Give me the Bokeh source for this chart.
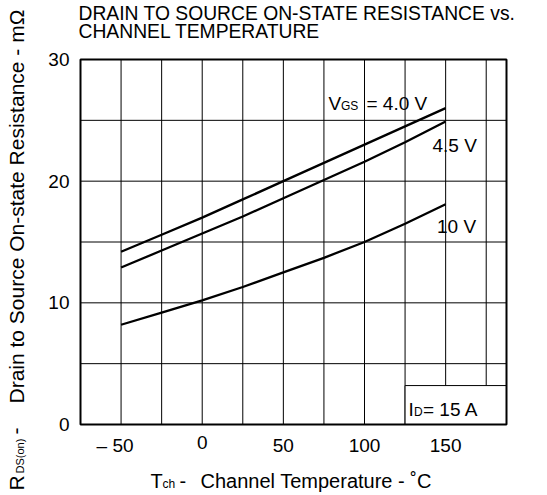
import math
from bokeh.plotting import figure
from bokeh.models import Range1d
from bokeh.core.properties import value
from bokeh.embed import file_html
from bokeh.resources import INLINE

# ---- data ----
temps = [-50, -25, 0, 25, 50, 75, 100, 125, 150]
r_vgs_40 = [14.2, 15.6, 17.0, 18.5, 20.0, 21.5, 23.0, 24.5, 26.0]
r_vgs_45 = [12.9, 14.3, 15.7, 17.1, 18.6, 20.1, 21.6, 23.2, 24.9]
r_vgs_10 = [8.2, 9.2, 10.2, 11.3, 12.5, 13.7, 15.0, 16.5, 18.1]

x_ticks = [-50, 0, 50, 100, 150]
x_tick_labels = ["– 50", "0", "50", "100", "150"]
y_ticks = [0, 10, 20, 30]
y_tick_labels = ["0", "10", "20", "30"]
x_grid = [-50, -25, 0, 25, 50, 75, 100, 125, 150, 175]
y_grid = [5, 10, 15, 20, 25]
x_min, x_max = -75, 187.5
y_min, y_max = 0, 30

id_box_left = [125]
id_box_right = [187.5]
id_box_bottom = [0]
id_box_top = [3.2]

FONT = "Liberation Sans"
W, H = 547, 495
ML, MR, MT, MB = 80, 41, 59, 71          # plot-area margins in pixels
KX = (x_max - x_min) / (W - ML - MR)      # data units per pixel
KY = (y_max - y_min) / (H - MT - MB)
BASE_CORR = 0.37                          # baseline correction (fraction of font size)

p = figure(width=W, height=H,
           x_range=Range1d(x_min - ML * KX, x_max + MR * KX),
           y_range=Range1d(y_min - MB * KY, y_max + MT * KY),
           output_backend="svg", toolbar_location=None,
           x_axis_type=None, y_axis_type=None,
           min_border=0)
p.outline_line_color = None
p.background_fill_color = "white"
p.border_fill_color = "white"


def fx(px):
    return x_min + (px - ML) * KX


def fy(py):
    return y_min + (H - MB - py) * KY


# grid lines
p.segment(x0=x_grid, x1=x_grid, y0=[y_min] * len(x_grid), y1=[y_max] * len(x_grid),
          line_color="black", line_width=1)
p.segment(x0=[x_min] * len(y_grid), x1=[x_max] * len(y_grid), y0=y_grid, y1=y_grid,
          line_color="black", line_width=1)

# I_D box
p.quad(left=id_box_left, right=id_box_right, bottom=id_box_bottom, top=id_box_top,
       fill_color="white", line_color="black", line_width=1)

# curves
for r in (r_vgs_40, r_vgs_45, r_vgs_10):
    p.line(temps, r, line_color="black", line_width=2.3)

# plot frame
p.quad(left=[x_min], right=[x_max], bottom=[y_min], top=[y_max],
       fill_color=None, line_color="black", line_width=2)

# tick labels
xl_x = [t - (6 * KX if lbl.startswith("–") else 0) for t, lbl in zip(x_ticks, x_tick_labels)]
xl_y = [fy(452 - BASE_CORR * 19 - (3 if lbl == "0" else 0)) for lbl in x_tick_labels]
p.text(x=xl_x, y=xl_y, text=x_tick_labels,
       text_font=value(FONT), text_font_size=value("19px"), text_color="black",
       text_align="center", text_baseline="alphabetic")
p.text(x=[fx(69)] * len(y_ticks), y=[t + (BASE_CORR * 19 - 7) * KY for t in y_ticks],
       text=y_tick_labels,
       text_font=value(FONT), text_font_size=value("19px"), text_color="black",
       text_align="right", text_baseline="alphabetic")


def lab(px, py, text, size, angle=0.0):
    c = BASE_CORR * size
    if angle:
        px = px - c
    else:
        py = py - c
    p.text(x=[fx(px)], y=[fy(py)], text=[text], angle=angle,
           text_font=value(FONT), text_font_size=value("%.1fpx" % size), text_color="black",
           text_align="left", text_baseline="alphabetic")


# title
lab(78, 20, "DRAIN TO SOURCE ON-STATE RESISTANCE vs.", 19.3)
lab(78, 38, "CHANNEL TEMPERATURE", 19.3)

# curve labels
lab(328, 110, "V", 19)
lab(340.5, 110, "GS", 12)
lab(366, 110, "= 4.0 V", 19)
lab(432, 152, "4.5 V", 19)
lab(436.5, 233, "10 V", 19)
lab(408, 416, "I", 19)
lab(413.5, 416, "D", 12)
lab(422.5, 416, "= 15 A", 19)

# x title
lab(150, 488, "T", 20)
lab(162, 488, "ch", 12)
lab(179, 488, "-", 20)
lab(200, 488, "Channel Temperature - ˚C", 20)

# y title (rotated)
lab(23.5, 490, "R", 21, math.pi / 2)
lab(23.5, 473, "DS(on)", 11, math.pi / 2)
lab(23.5, 434, "-", 21, math.pi / 2)
lab(23.5, 403, "Drain to Source On-state Resistance - mΩ", 21, math.pi / 2)

open("out.html", "w").write(file_html(p, INLINE))
